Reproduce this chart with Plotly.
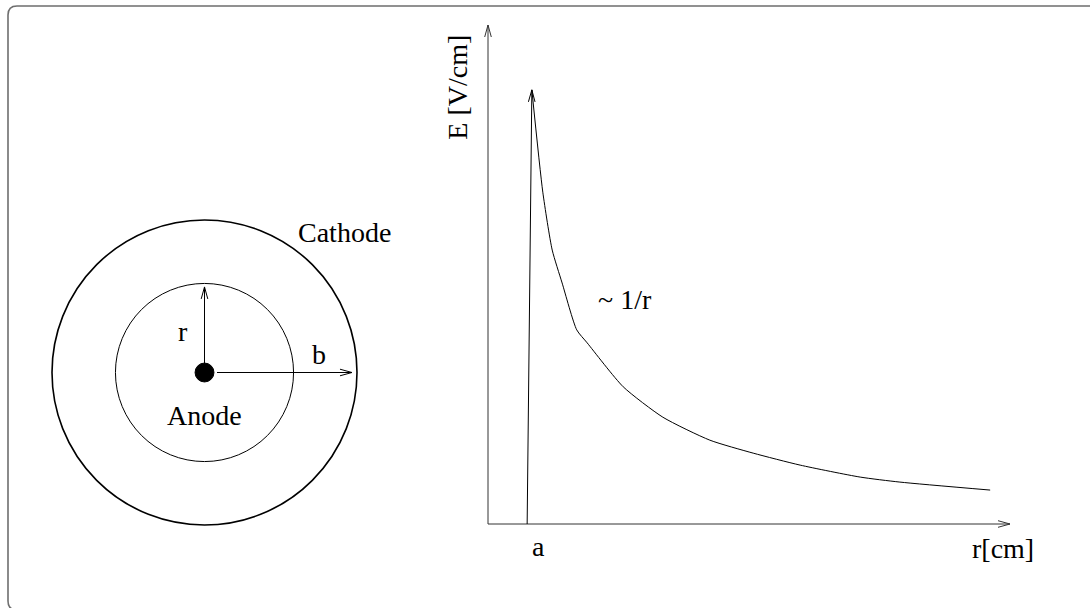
import math
import plotly.graph_objects as go

W, H = 1090, 608

# ---- Field profile E(r) in a proportional counter (arbitrary units) ----
a_wire = 0.75                      # anode wire radius a on the r axis
r_peak, E_peak = 0.84, 8.70        # field maximum at the wire surface
r_curve = [0.84, 1.05, 1.23, 1.42, 1.70, 1.90, 2.59, 3.35, 4.25, 5.08, 5.98, 7.13, 7.89, 9.62]
E_curve = [8.70, 6.65, 5.49, 4.83, 3.89, 3.63, 2.75, 2.14, 1.68, 1.42, 1.18, 0.94, 0.84, 0.68]
r_axis_end, E_axis_end = 10.0, 10.0

# ---- Cross-section of the counter (cathode radius b = 1) ----
b_cathode = 1.0
r_circle = 0.584                   # radius r of the drawn field circle
a_dot = 0.062                      # drawn size of the anode wire
r_arrow_tip = 0.561
b_arrow = [0.082, 0.967]

# ---- layout constants (pixels) ----
S1, CX1, CY1 = 152.5, 204.5, 372.5     # cross-section scale and centre
SX2, SY2, OX2, OY2 = 52.2, 49.9, 488, 524  # field plot scale and origin

FONT = dict(family="Liberation Serif, Times New Roman, serif", size=28, color="black")

fig = go.Figure()


def head(x0, y0, x1, y1, sx, sy, L=12.0, w=3.3):
    """Open V arrowhead at (x1, y1), pointing along (x0, y0)->(x1, y1)."""
    dx, dy = (x1 - x0) * sx, (y1 - y0) * sy
    n = math.hypot(dx, dy)
    ux, uy = dx / n, dy / n
    bx, by = -ux * L, -uy * L
    px, py = -uy * w, ux * w
    xs = [x1 + (bx + px) / sx, x1, x1 + (bx - px) / sx]
    ys = [y1 + (by + py) / sy, y1, y1 + (by - py) / sy]
    return xs, ys


def line(xs, ys, axes, color="black", width=1.0, shape="linear"):
    fig.add_trace(go.Scatter(x=xs, y=ys, mode="lines", xaxis=axes[0], yaxis=axes[1],
                             line=dict(color=color, width=width, shape=shape, smoothing=0.6),
                             hoverinfo="skip", showlegend=False))


def arrow(x0, y0, x1, y1, axes, sx, sy, color="black", width=1.0):
    line([x0, x1], [y0, y1], axes, color, width)
    hx, hy = head(x0, y0, x1, y1, sx, sy)
    line(hx, hy, axes, color, width)


A1 = ("x", "y")
A2 = ("x2", "y2")

# ---- cross-section: circles, wire, r and b arrows ----
shapes = []
shapes.append(dict(type="circle", xref="x", yref="y",
                   x0=-b_cathode, x1=b_cathode, y0=-b_cathode, y1=b_cathode,
                   line=dict(color="black", width=1.6)))
shapes.append(dict(type="circle", xref="x", yref="y",
                   x0=-r_circle, x1=r_circle, y0=-r_circle, y1=r_circle,
                   line=dict(color="black", width=1.0)))
shapes.append(dict(type="circle", xref="x", yref="y",
                   x0=-a_dot, x1=a_dot, y0=-a_dot, y1=a_dot,
                   fillcolor="black", line=dict(color="black", width=1)))

arrow(0, 0, 0, r_arrow_tip, A1, S1, S1)
arrow(b_arrow[0], 0, b_arrow[1], 0, A1, S1, S1)

# ---- field plot: axes, rise at the wire, 1/r fall-off ----
arrow(0, 0, 0, E_axis_end, A2, SX2, SY2, color="#333", width=1.0)
arrow(0, 0, r_axis_end, 0, A2, SX2, SY2, color="#333", width=1.0)
arrow(a_wire, 0, r_peak, E_peak, A2, SX2, SY2)
line(r_curve, E_curve, A2, shape="spline")

# ---- outer rounded frame (paper coordinates) ----
def px(x):
    return x / W


def py(y):
    return 1 - y / H


R = 9
L_, T_, B_, RR = 8, 6, 610, 1100
frame = (f"M {px(RR)},{py(T_)} L {px(L_ + R)},{py(T_)} "
         f"Q {px(L_)},{py(T_)} {px(L_)},{py(T_ + R)} "
         f"L {px(L_)},{py(B_ - R)} Q {px(L_)},{py(B_)} {px(L_ + R)},{py(B_)} "
         f"L {px(RR)},{py(B_)}")
shapes.append(dict(type="path", xref="paper", yref="paper", path=frame,
                   line=dict(color="#6e6e6e", width=1.6)))

# ---- text labels ----
ann = []


def label(text, x, y, axes, angle=0):
    ann.append(dict(text=text, x=x, y=y, xref=axes[0], yref=axes[1], showarrow=False,
                    font=FONT, xanchor="center", yanchor="middle", textangle=angle))


label("Cathode", 0.915, 0.915, A1)
label("Anode", 0.0, -0.28, A1)
label("r", -0.141, 0.27, A1)
label("b", 0.751, 0.115, A1)

label("a", 0.958, -0.45, A2)
label("r[cm]", 9.866, -0.49, A2)
label("~ 1/r", 2.625, 4.50, A2)
label("E [V/cm]", -0.60, 8.757, A2, angle=-90)

hidden = dict(visible=False, showgrid=False, zeroline=False, fixedrange=True)

fig.update_layout(
    width=W, height=H,
    margin=dict(l=0, r=0, t=0, b=0),
    paper_bgcolor="white", plot_bgcolor="rgba(0,0,0,0)",
    showlegend=False,
    shapes=shapes, annotations=ann,
    xaxis=dict(hidden, domain=[0, 1], range=[-CX1 / S1, (W - CX1) / S1]),
    yaxis=dict(hidden, domain=[0, 1], range=[-(H - CY1) / S1, CY1 / S1]),
    xaxis2=dict(hidden, domain=[0, 1], anchor="y2", range=[-OX2 / SX2, (W - OX2) / SX2]),
    yaxis2=dict(hidden, domain=[0, 1], anchor="x2", range=[-(H - OY2) / SY2, OY2 / SY2]),
)

fig.write_html("out.html")
